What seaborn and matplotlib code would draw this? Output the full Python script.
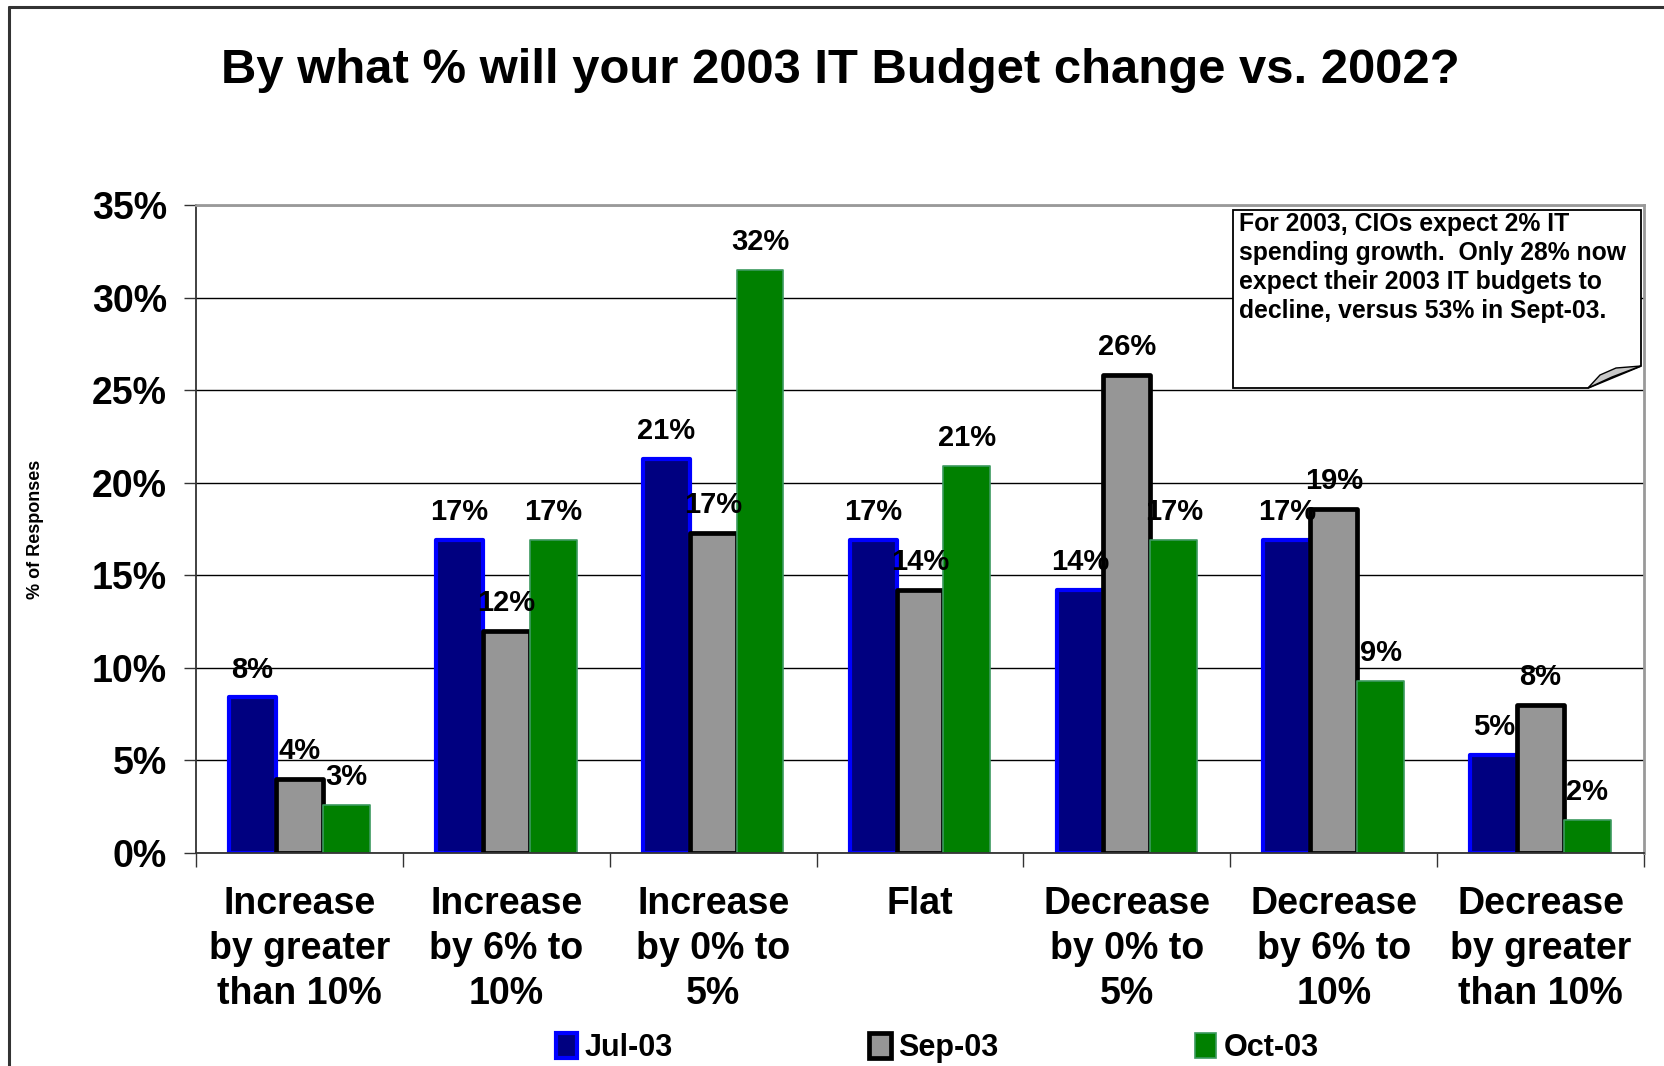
import matplotlib
matplotlib.use("Agg")
import matplotlib.pyplot as plt
from matplotlib.patches import Patch, Polygon
from matplotlib.lines import Line2D
import seaborn as sns
import pandas as pd

# Survey answers and response shares (% of responses)
categories = [
    "Increase\nby greater\nthan 10%",
    "Increase\nby 6% to\n10%",
    "Increase\nby 0% to\n5%",
    "Flat",
    "Decrease\nby 0% to\n5%",
    "Decrease\nby 6% to\n10%",
    "Decrease\nby greater\nthan 10%",
]
periods = ["Jul-03", "Sep-03", "Oct-03"]
jul_03 = [8.4, 16.9, 21.3, 16.9, 14.2, 16.9, 5.3]
sep_03 = [4.0, 12.0, 17.3, 14.2, 25.8, 18.6, 8.0]
oct_03 = [2.6, 16.9, 31.5, 20.9, 16.9, 9.3, 1.8]
y_ticks = [0, 5, 10, 15, 20, 25, 30, 35]

note = ("For 2003, CIOs expect 2% IT\n"
        "spending growth.  Only 28% now\n"
        "expect their 2003 IT budgets to\n"
        "decline, versus 53% in Sept-03.")

df = pd.DataFrame({
    "answer": categories * 3,
    "period": [p for p in periods for _ in categories],
    "share": jul_03 + sep_03 + oct_03,
})

sns.set_theme(style="white")
plt.rcParams["font.family"] = ["Liberation Sans", "DejaVu Sans"]
plt.rcParams["font.weight"] = "bold"
for key in ("text.color", "axes.labelcolor", "xtick.color", "ytick.color"):
    plt.rcParams[key] = "black"

fills = {"Jul-03": "#000080", "Sep-03": "#969696", "Oct-03": "#008000"}
edges = {"Jul-03": "#0000FF", "Sep-03": "#000000", "Oct-03": "#3C9A5F"}
edge_w = {"Jul-03": 3.0, "Sep-03": 3.4, "Oct-03": 1.2}

fig = plt.figure(figsize=(16.65, 10.66), dpi=100)
ax = fig.add_axes([0.1177, 0.1998, 0.8697, 0.6079])

sns.barplot(data=df, x="answer", y="share", hue="period", hue_order=periods,
            order=categories, palette=fills, width=0.68, ax=ax,
            legend=False, saturation=1)

for cont, p in zip(ax.containers, periods):
    for bar in cont:
        bar.set_edgecolor(edges[p])
        bar.set_linewidth(edge_w[p])
        bar.set_joinstyle("round")
    ax.bar_label(cont, labels=[f"{b.get_height():.0f}%" for b in cont],
                 padding=10, fontsize=21, fontweight="bold", color="black")

ax.set_ylim(0, 35)
ax.set_xlim(-0.5, len(categories) - 0.5)
ax.set_yticks(y_ticks)
ax.set_yticklabels([f"{t}%" for t in y_ticks], fontsize=27, fontweight="bold")
ax.yaxis.grid(True, color="black", linewidth=1.0)
ax.set_axisbelow(True)

# category labels centred under each group, ticks at group boundaries
ax.set_xticks(range(len(categories)))
ax.set_xticklabels(categories, fontsize=27, fontweight="bold", linespacing=1.32)
ax.tick_params(axis="x", which="major", length=0, pad=24)
ax.set_xticks([i - 0.5 for i in range(len(categories) + 1)], minor=True)
ax.tick_params(axis="x", which="minor", length=10, width=1.0, color="#333333",
               direction="out", bottom=True)
ax.tick_params(axis="y", length=9, width=1.0, color="#333333", direction="out",
               left=True, pad=12)

ax.set_xlabel("")
ax.set_ylabel("% of Responses", fontsize=13, fontweight="bold", labelpad=34)

for side in ("left", "bottom"):
    ax.spines[side].set_color("#333333")
    ax.spines[side].set_linewidth(1.3)
for side in ("top", "right"):
    ax.spines[side].set_visible(True)
    ax.spines[side].set_color("#999999")
    ax.spines[side].set_linewidth(2.0)

fig.suptitle("By what % will your 2003 IT Budget change vs. 2002?",
             x=0.505, y=0.955, fontsize=35.3, fontweight="bold")

# callout box with a curled lower-right corner (figure pixel coordinates)
W, H = fig.bbox.width, fig.bbox.height
def fp(x, y):
    return (x / W, 1 - y / H)

box = Polygon([fp(1233, 210), fp(1641, 210), fp(1641, 366),
               fp(1588, 388), fp(1233, 388)], closed=True,
              facecolor="white", edgecolor="black", linewidth=1.3,
              transform=fig.transFigure, zorder=5)
fold = Polygon([fp(1588, 388), fp(1600, 375), fp(1616, 368), fp(1641, 366),
                fp(1612, 377)], closed=True, facecolor="#C8C8C8",
               edgecolor="black", linewidth=1.0, transform=fig.transFigure,
               zorder=6)
fig.add_artist(box)
fig.add_artist(fold)
fig.text(*fp(1239, 212), note, ha="left", va="top", fontsize=17.8,
         fontweight="bold", linespacing=1.26, zorder=7)

# outer frame (left and top edges)
fig.add_artist(Line2D([fp(9, 0)[0], fp(9, 0)[0]], [fp(0, 7)[1], 0],
                      color="#333333", linewidth=2.2,
                      transform=fig.transFigure))
fig.add_artist(Line2D([fp(9, 0)[0], 1], [fp(0, 7)[1], fp(0, 7)[1]],
                      color="#333333", linewidth=2.2,
                      transform=fig.transFigure))

handles = [Patch(facecolor=fills[p], edgecolor=edges[p], linewidth=edge_w[p],
                 label=p) for p in periods]
fig.legend(handles=handles, loc="center", bbox_to_anchor=(0.563, 0.017),
           ncol=3, frameon=False, handlelength=0.7,
           handleheight=0.9, handletextpad=0.25, columnspacing=6.43,
           prop={"weight": "bold", "size": 22})

fig.savefig("out.png", dpi=100, facecolor="white")
